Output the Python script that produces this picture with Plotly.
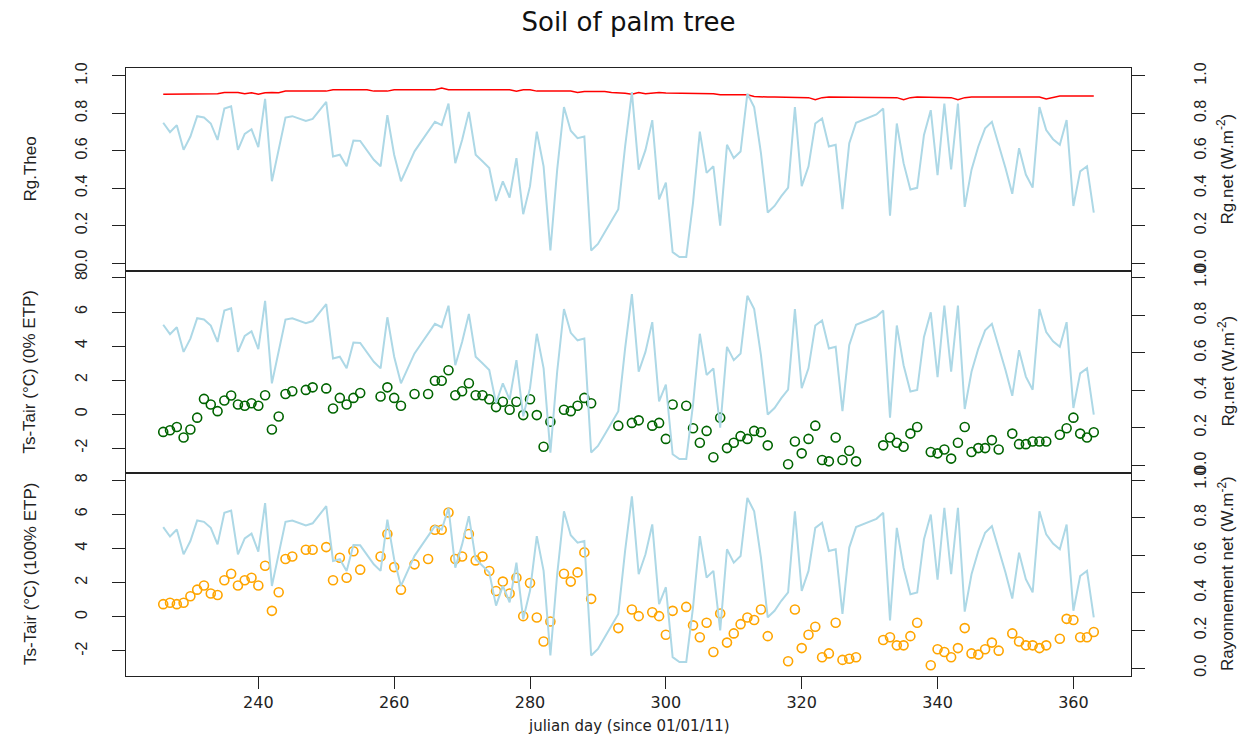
"""
Soil of palm tree: three stacked panels (Rg.Theo, Ts-Tair 0% ETP, Ts-Tair 100% ETP)
with Rg.net on a secondary right axis.
"""

import plotly.graph_objects as go

# ==========================================================
# DATA
# ==========================================================

# daily series, julian days 226 .. 363
line_days = list(range(226, 364))

rg_net = [
    0.75, 0.70, 0.737, 0.605, 0.676, 0.785, 0.778, 0.746, 0.658, 0.826,
    0.838, 0.605, 0.69, 0.715, 0.62, 0.878, 0.437, 0.605, 0.778, 0.785,
    0.773, 0.759, 0.77, 0.817, 0.861, 0.57, 0.579, 0.517, 0.655, 0.653,
    0.6, 0.552, 0.517, 0.79, 0.579, 0.437, 0.517, 0.597, 0.65, 0.702,
    0.755, 0.737, 0.852, 0.534, 0.658, 0.808, 0.579, 0.544, 0.508, 0.332,
    0.437, 0.35, 0.561, 0.261, 0.411, 0.702, 0.517, 0.067, 0.499, 0.834,
    0.707, 0.667, 0.676, 0.067, 0.102, 0.164, 0.226, 0.288, 0.623, 0.914,
    0.499, 0.605, 0.764, 0.34, 0.43, 0.058, 0.032, 0.032, 0.323, 0.702,
    0.482, 0.517, 0.20, 0.632, 0.561, 0.596, 0.905, 0.834, 0.588, 0.27,
    0.305, 0.358, 0.403, 0.834, 0.411, 0.517, 0.746, 0.773, 0.623, 0.632,
    0.288, 0.641, 0.75, 0.764, 0.778, 0.794, 0.826, 0.253, 0.746, 0.534,
    0.393, 0.402, 0.685, 0.817, 0.47, 0.852, 0.50, 0.852, 0.30, 0.499,
    0.623, 0.72, 0.755, 0.632, 0.508, 0.37, 0.614, 0.473, 0.403, 0.834,
    0.711, 0.662, 0.632, 0.764, 0.305, 0.49, 0.517, 0.27,
]

rg_theo = [
    0.902, 0.902, 0.902, 0.902, 0.905, 0.905, 0.905, 0.905, 0.905, 0.912,
    0.912, 0.912, 0.905, 0.91, 0.902, 0.91, 0.912, 0.91, 0.919, 0.919,
    0.919, 0.919, 0.919, 0.919, 0.919, 0.926, 0.926, 0.926, 0.926, 0.926,
    0.926, 0.919, 0.919, 0.919, 0.926, 0.926, 0.926, 0.926, 0.926, 0.926,
    0.926, 0.935, 0.926, 0.926, 0.926, 0.926, 0.926, 0.926, 0.926, 0.926,
    0.926, 0.926, 0.919, 0.926, 0.926, 0.919, 0.919, 0.919, 0.919, 0.919,
    0.919, 0.912, 0.917, 0.917, 0.917, 0.917, 0.912, 0.912, 0.908, 0.902,
    0.912, 0.905, 0.91, 0.912, 0.909, 0.909, 0.909, 0.909, 0.909, 0.909,
    0.909, 0.905, 0.899, 0.899, 0.899, 0.899, 0.899, 0.89, 0.887, 0.887,
    0.887, 0.887, 0.887, 0.887, 0.887, 0.884, 0.873, 0.884, 0.887, 0.887,
    0.887, 0.887, 0.887, 0.887, 0.887, 0.887, 0.887, 0.887, 0.884, 0.873,
    0.884, 0.887, 0.887, 0.887, 0.887, 0.887, 0.884, 0.873, 0.884, 0.887,
    0.887, 0.887, 0.887, 0.887, 0.887, 0.887, 0.887, 0.887, 0.887, 0.887,
    0.877, 0.884, 0.893, 0.893, 0.893, 0.893, 0.893, 0.893,
]

# point series (days with a measurement)
pt_days = [
    226, 227, 228, 229, 230, 231, 232, 233, 234, 235,
    236, 237, 238, 239, 240, 241, 242, 243, 244, 245,
    247, 248, 250, 251, 252, 253, 254, 255,
    258, 259, 260, 261, 263,
    265, 266, 267, 268, 269, 270, 271, 272, 273, 274,
    275, 276, 277, 278, 279, 280, 281, 282, 283,
    285, 286, 287, 288, 289,
    293, 295, 296, 298, 299, 300, 301, 303, 304, 305,
    306, 307, 308, 309, 310, 311, 312, 313, 314, 315,
    318, 319, 320, 321, 322, 323, 324, 325, 326, 327,
    328, 332, 333, 334, 335, 336, 337, 339, 340, 341,
    342, 343, 344, 345, 346, 347, 348, 349, 351, 352,
    353, 354, 355, 356, 358, 359, 360, 361, 362, 363,
]

ts_0etp = [
    -1.05, -0.95, -0.76, -1.38, -0.91, -0.21, 0.89, 0.56, 0.17, 0.8,
    1.09, 0.56, 0.49, 0.64, 0.49, 1.11, -0.91, -0.14, 1.18, 1.34,
    1.42, 1.57, 1.51, 0.33, 0.95, 0.56, 0.95, 1.24,
    1.03, 1.57, 0.95, 0.49, 1.18,
    1.18, 1.96, 1.96, 2.58, 1.11, 1.34, 1.81, 1.11, 1.11, 0.87,
    0.41, 0.72, 0.25, 0.72, -0.06, 0.87, -0.06, -1.92, -0.45,
    0.25, 0.17, 0.49, 0.95, 0.64,
    -0.68, -0.52, -0.37, -0.68, -0.52, -1.46, 0.56, 0.49, -0.83, -1.69,
    -0.99, -2.54, -0.21, -2.0, -1.69, -1.3, -1.46, -0.99, -1.07, -1.84,
    -2.95, -1.61, -2.31, -1.46, -0.68, -2.7, -2.78, -1.38, -2.7, -2.16,
    -2.78, -1.84, -1.38, -1.69, -1.92, -1.15, -0.76, -2.23, -2.31, -2.08,
    -2.62, -1.69, -0.76, -2.23, -2.0, -2.0, -1.53, -2.08, -1.15, -1.77,
    -1.77, -1.61, -1.61, -1.61, -1.22, -0.83, -0.21, -1.15, -1.38, -1.07,
]

ts_100etp = [
    0.74, 0.82, 0.74, 0.82, 1.2, 1.59, 1.83, 1.36, 1.28, 2.14,
    2.52, 1.83, 2.14, 2.29, 1.83, 2.99, 0.35, 1.44, 3.38, 3.53,
    3.92, 3.92, 4.08, 2.14, 3.46, 2.29, 3.84, 2.76,
    3.53, 4.85, 2.91, 1.59, 3.07,
    3.38, 5.09, 5.09, 6.1, 3.38, 3.53, 4.85, 3.3, 3.53, 2.68,
    1.51, 2.06, 1.36, 2.29, 0.04, 1.98, -0.04, -1.44, -0.27,
    2.52, 2.06, 2.6, 3.77, 1.05,
    -0.66, 0.43, 0.04, 0.27, 0.04, -1.05, 0.35, 0.58, -0.5, -1.2,
    -0.35, -2.06, 0.19, -1.51, -0.97, -0.43, -0.04, -0.19, 0.43, -1.13,
    -2.6, 0.43, -1.83, -1.05, -0.58, -2.37, -2.14, -0.35, -2.52, -2.45,
    -2.37, -1.36, -1.2, -1.67, -1.67, -1.13, -0.35, -2.83, -1.9, -2.06,
    -2.37, -1.83, -0.66, -2.14, -2.21, -1.9, -1.51, -1.98, -0.97, -1.44,
    -1.67, -1.67, -1.83, -1.67, -1.28, -0.12, -0.19, -1.2, -1.2, -0.89,
]

x_ticks = [240, 260, 280, 300, 320, 340, 360]
unit_ticks = [0.0, 0.2, 0.4, 0.6, 0.8, 1.0]
unit_labels = ["0.0", "0.2", "0.4", "0.6", "0.8", "1.0"]
ts_ticks = [-2, 0, 2, 4, 6, 8]
ts_labels = ["-2", "0", "2", "4", "6", "8"]

# ==========================================================
# GEOMETRY (pixels of the 1254x747 page; the page body adds an 8px margin)
# ==========================================================

PAGE_W, PAGE_H = 1254, 747
OFF = 8
W, H = PAGE_W - 2 * OFF, PAGE_H - 2 * OFF
PLOT_L, PLOT_R = 126, 1131
PANELS = [(63, 267), (267, 471), (471, 676)]

X_RANGE = [220.52, 368.48]
UNIT_RANGE = [-0.04, 1.04]
TS_RANGE = [-3.44, 8.44]

NARROW = "Liberation Sans Narrow, Arial Narrow, Liberation Sans, Arial"
WIDE = "DejaVu Sans, Verdana, Arial"


def px(x):
    return (x - OFF) / W


def py(y):
    return 1 - (y - OFF) / H


def ydom(top, bottom):
    return [py(bottom), py(top)]


def y_axis(domain=None, rng=UNIT_RANGE, vals=unit_ticks, text=unit_labels,
           side="left", overlay=None, anchor="x"):
    ax = dict(
        range=rng,
        tickvals=vals,
        ticktext=text,
        ticks="outside",
        ticklen=13,
        tickwidth=1.3,
        tickcolor="#222",
        tickangle=-90,
        # rotated labels sit closer to the axis on the right side
        ticklabelstandoff=18 if side == "left" else 42,
        tickfont=dict(family=NARROW, size=16, color="#222"),
        showline=True,
        linecolor="#222",
        linewidth=1.3,
        showgrid=False,
        zeroline=False,
        side=side,
        anchor=anchor,
        fixedrange=True,
    )
    if domain is not None:
        ax["domain"] = domain
    if overlay is not None:
        ax["overlaying"] = overlay
    return ax


def x_axis(anchor, labels=False):
    ax = dict(
        domain=[px(PLOT_L), px(PLOT_R)],
        range=X_RANGE,
        anchor=anchor,
        showline=True,
        mirror=True,
        linecolor="#222",
        linewidth=1.3,
        showgrid=False,
        zeroline=False,
        fixedrange=True,
    )
    if labels:
        ax.update(
            tickvals=x_ticks,
            ticks="outside",
            ticklen=12,
            tickwidth=1.3,
            tickcolor="#222",
            tickfont=dict(family=WIDE, size=16, color="#222"),
        )
    else:
        ax.update(ticks="", showticklabels=False)
    return ax


# ==========================================================
# TRACES
# ==========================================================

fig = go.Figure()

BLUE = "#ADD8E6"

# panel 1
fig.add_trace(go.Scatter(x=line_days, y=rg_theo, mode="lines",
                         line=dict(color="#FF0000", width=1.5),
                         xaxis="x", yaxis="y", name="Rg.Theo"))
fig.add_trace(go.Scatter(x=line_days, y=rg_net, mode="lines",
                         line=dict(color=BLUE, width=2),
                         xaxis="x", yaxis="y4", name="Rg.net"))

# panel 2
fig.add_trace(go.Scatter(x=pt_days, y=ts_0etp, mode="markers",
                         marker=dict(symbol="circle-open", size=9,
                                     color="#006400", line=dict(width=1.6)),
                         xaxis="x2", yaxis="y2", name="Ts-Tair 0% ETP"))
fig.add_trace(go.Scatter(x=line_days, y=rg_net, mode="lines",
                         line=dict(color=BLUE, width=2),
                         xaxis="x2", yaxis="y5", name="Rg.net"))

# panel 3
fig.add_trace(go.Scatter(x=pt_days, y=ts_100etp, mode="markers",
                         marker=dict(symbol="circle-open", size=9,
                                     color="#FFA500", line=dict(width=1.6)),
                         xaxis="x3", yaxis="y3", name="Ts-Tair 100% ETP"))
fig.add_trace(go.Scatter(x=line_days, y=rg_net, mode="lines",
                         line=dict(color=BLUE, width=2),
                         xaxis="x3", yaxis="y6", name="Rayonnement net"))

# ==========================================================
# AXIS TITLES
# ==========================================================

left_titles = ["Rg.Theo", "Ts-Tair (°C) (0% ETP)", "Ts-Tair (°C) (100% ETP)"]
right_titles = ["Rg.net (W.m<sup>-2</sup>)", "Rg.net (W.m<sup>-2</sup>)",
                "Rayonnement net (W.m<sup>-2</sup>)"]

annotations = []
for (top, bottom), lt, rt in zip(PANELS, left_titles, right_titles):
    yc = py((top + bottom) / 2)
    for text, xc in ((lt, 30), (rt, 1226)):
        annotations.append(dict(text=text, x=px(xc), y=yc,
                                xref="paper", yref="paper",
                                xanchor="center", yanchor="middle",
                                textangle=-90, showarrow=False,
                                font=dict(family=NARROW, size=17, color="#222")))

annotations.append(dict(text="julian day (since 01/01/11)", x=px(628.5),
                        y=py(727), xref="paper", yref="paper",
                        xanchor="center", yanchor="middle", showarrow=False,
                        font=dict(family=WIDE, size=15, color="#222")))

# ==========================================================
# LAYOUT
# ==========================================================

fig.update_layout(
    width=W,
    height=H,
    margin=dict(l=0, r=0, t=0, b=0),
    paper_bgcolor="white",
    plot_bgcolor="white",
    showlegend=False,
    title=dict(text="Soil of palm tree", x=px(628.5), xanchor="center",
               y=py(22), yanchor="middle",
               font=dict(family=WIDE, size=26, color="#111")),
    annotations=annotations,
    xaxis=x_axis("y"),
    xaxis2=x_axis("y2"),
    xaxis3=x_axis("y3", labels=True),
    yaxis=y_axis(domain=ydom(*PANELS[0]), anchor="x"),
    yaxis2=y_axis(domain=ydom(*PANELS[1]), rng=TS_RANGE, vals=ts_ticks,
                  text=ts_labels, anchor="x2"),
    yaxis3=y_axis(domain=ydom(*PANELS[2]), rng=TS_RANGE, vals=ts_ticks,
                  text=ts_labels, anchor="x3"),
    yaxis4=y_axis(side="right", overlay="y", anchor="x"),
    yaxis5=y_axis(side="right", overlay="y2", anchor="x2"),
    yaxis6=y_axis(side="right", overlay="y3", anchor="x3"),
)

fig.write_html("out.html")
